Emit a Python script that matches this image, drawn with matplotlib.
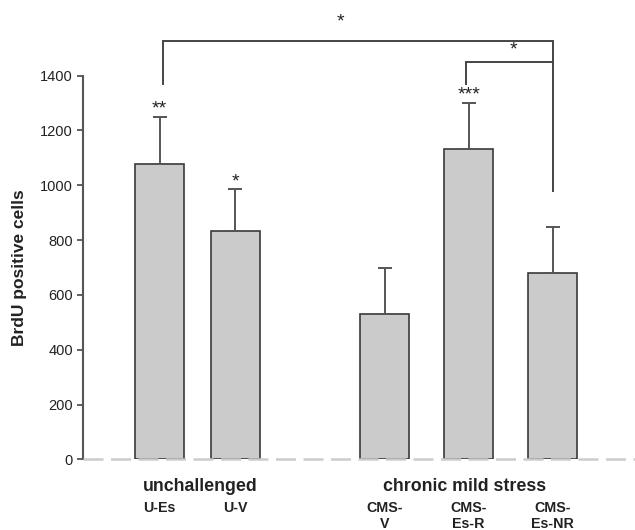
import matplotlib
matplotlib.use("Agg")
import matplotlib.pyplot as plt

# ---- data ----
labels = ["U-Es", "U-V", "CMS-\nV", "CMS-\nEs-R", "CMS-\nEs-NR"]
positions = [0.0, 0.9, 2.68, 3.68, 4.68]
means = [1078, 834, 530, 1134, 679]
sems = [172, 151, 170, 166, 168]
stars = ["**", "*", "", "***", ""]
groups = ["unchallenged", "chronic mild stress"]
group_pos = [0.48, 3.63]
yticks = [0, 200, 400, 600, 800, 1000, 1200, 1400]
ylabel = "BrdU positive cells"

plt.rcParams["font.family"] = ["Liberation Sans", "DejaVu Sans"]

fig = plt.figure(figsize=(6.35, 5.30), dpi=100)
ax = fig.add_axes([82.7 / 635, 70.7 / 530, 1 - 82.7 / 635, 383.6 / 530])

ax.bar(positions, means, width=0.58, color="#cbcbcb", edgecolor="#3a3a3a",
       linewidth=1.2, zorder=2)
ax.errorbar(positions, means, yerr=[[0] * len(means), sems], fmt="none",
            ecolor="#555555", elinewidth=1.4, capsize=5, capthick=1.4, zorder=3)

# baseline dashed
ax.axhline(0, color="#cccccc", linestyle=(0, (8, 3)), linewidth=1.8, zorder=4,
           clip_on=False)

ax.set_xlim(-0.915, 5.66)
ax.set_ylim(0, 1400)
ax.set_yticks(yticks)
ax.set_yticklabels([str(t) for t in yticks], fontsize=10.5, color="#222222")
ax.set_xticks(positions)
ax.set_xticklabels(labels, fontsize=10.3, fontweight="bold", linespacing=1.15,
                   color="#222222")
ax.tick_params(axis="x", length=0, pad=30)
ax.tick_params(axis="y", length=4, width=1.3, color="#555555", pad=3)
for s in ["top", "right", "bottom"]:
    ax.spines[s].set_visible(False)
ax.spines["left"].set_color("#555555")
ax.spines["left"].set_linewidth(1.5)

ax.set_ylabel(ylabel, fontsize=12.5, fontweight="bold", color="#222222")
ax.yaxis.set_label_coords(-0.101, 0.5)

# group labels
for g, gp in zip(groups, group_pos):
    ax.annotate(g, (gp, 0), xytext=(0, -19.5), textcoords="offset points",
                ha="center", va="center", fontsize=12.8, fontweight="bold",
                color="#222222", annotation_clip=False)

star_kw = dict(textcoords="offset points", ha="center", va="baseline",
               fontsize=14, color="#222222", annotation_clip=False)

# significance stars above bars
for x, m, e, s in zip(positions, means, sems, stars):
    if s:
        ax.annotate(s, (x, m + e + 40), xytext=(0, -5.5), **star_kw)

# brackets
lc = "#444444"
top1, top2, low = 1527, 1449, 1370
xr = positions[4]
ax.plot([positions[0] + 0.045, positions[0] + 0.045, xr, xr],
        [low, top1, top1, means[4] + sems[4] + 132], color=lc, lw=1.4,
        clip_on=False, solid_joinstyle="miter")
ax.plot([positions[3] - 0.03, positions[3] - 0.03, xr],
        [low, top2, top2], color=lc, lw=1.4, clip_on=False,
        solid_joinstyle="miter")
ax.annotate("*", (2.15, 1607), xytext=(0, -5.5), **star_kw)
ax.annotate("*", (4.21, 1505), xytext=(0, -5.5), **star_kw)

fig.savefig("out.png", dpi=100)
